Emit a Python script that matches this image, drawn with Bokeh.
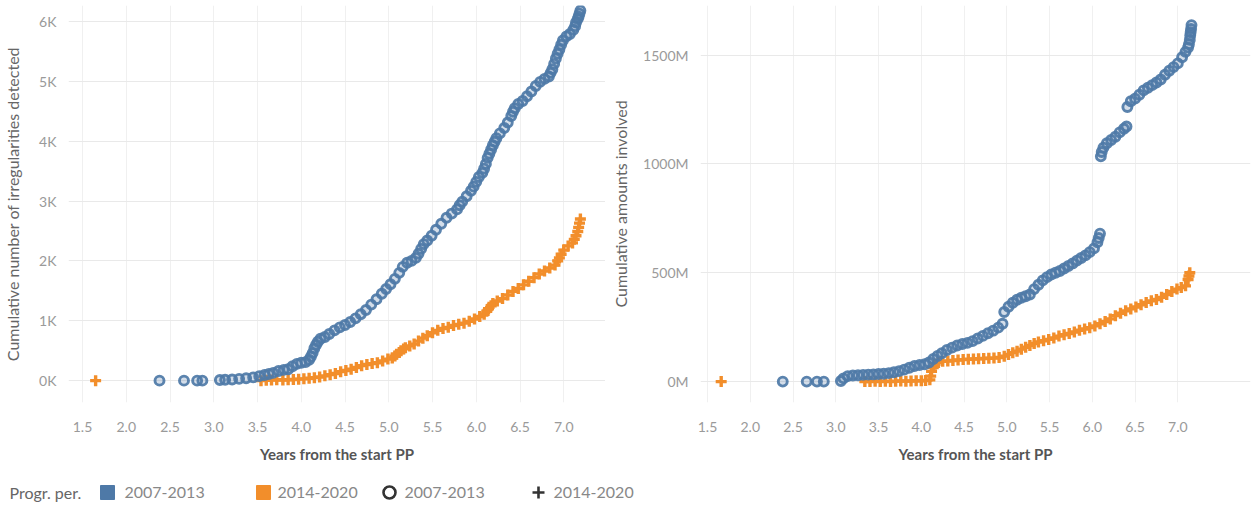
from bokeh.plotting import figure
from bokeh.layouts import column, row
from bokeh.models import FixedTicker, Range1d
from bokeh.core.properties import value
from bokeh.embed import file_html
from bokeh.resources import INLINE

# ---------------- data ----------------
x_ticks = [1.5, 2.0, 2.5, 3.0, 3.5, 4.0, 4.5, 5.0, 5.5, 6.0, 6.5, 7.0]
x_tick_labels = ["1.5", "2.0", "2.5", "3.0", "3.5", "4.0", "4.5", "5.0", "5.5", "6.0", "6.5", "7.0"]
left_y_ticks = [0, 1000, 2000, 3000, 4000, 5000, 6000]
left_y_labels = ["0K", "1K", "2K", "3K", "4K", "5K", "6K"]
right_y_ticks = [0, 500, 1000, 1500]
right_y_labels = ["0M", "500M", "1000M", "1500M"]

series_names = ["2007-2013", "2014-2020"]

# Left chart: cumulative number of irregularities detected
irr_0713_x = [2.38, 2.66, 2.81, 2.87, 3.07, 3.13, 3.21, 3.29, 3.37, 3.45, 3.52, 3.58, 3.63, 3.68, 3.74,
              3.8, 3.85, 3.9, 3.95, 4.0, 4.05, 4.09, 4.11, 4.13, 4.15, 4.17, 4.19, 4.22, 4.27, 4.32,
              4.38, 4.44, 4.5, 4.56, 4.62, 4.68, 4.74, 4.8, 4.86, 4.92, 4.97, 5.02, 5.07, 5.12, 5.16,
              5.21, 5.26, 5.31, 5.34, 5.37, 5.4, 5.44, 5.49, 5.54, 5.6, 5.66, 5.72, 5.78, 5.81, 5.84,
              5.89, 5.94, 5.97, 6.0, 6.03, 6.07, 6.09, 6.11, 6.13, 6.15, 6.17, 6.19, 6.21, 6.23, 6.27,
              6.32, 6.36, 6.4, 6.42, 6.44, 6.48, 6.53, 6.58, 6.63, 6.68, 6.73, 6.78, 6.83, 6.85, 6.87,
              6.89, 6.91, 6.93, 6.95, 6.97, 6.99, 7.03, 7.07, 7.11, 7.13, 7.14, 7.16, 7.17, 7.18, 7.19]
irr_0713_y = [0, 0, 0, 0, 10, 15, 20, 30, 40, 55, 75, 95, 110, 130, 160,
              180, 190, 240, 280, 300, 310, 350, 400, 460, 540, 600, 650, 700, 730, 780,
              840, 890, 930, 980, 1040, 1110, 1180, 1270, 1360, 1450, 1530, 1610, 1700, 1800, 1900,
              1970, 2000, 2050, 2120, 2200, 2280, 2340, 2420, 2520, 2620, 2720, 2790, 2860, 2930, 2990,
              3080, 3170, 3240, 3320, 3400, 3470, 3540, 3620, 3720, 3790, 3860, 3930, 3990, 4050, 4130,
              4220, 4310, 4420, 4490, 4550, 4620, 4670, 4750, 4830, 4920, 4990, 5040, 5080, 5140, 5200,
              5290, 5380, 5460, 5530, 5610, 5680, 5750, 5790, 5860, 5920, 5980, 6040, 6080, 6130, 6180]

irr_1420_x = [1.65, 3.54, 3.6, 3.66, 3.72, 3.79, 3.85, 3.91, 3.97, 4.03, 4.09, 4.15, 4.21, 4.27, 4.33,
              4.39, 4.45, 4.51, 4.57, 4.63, 4.69, 4.75, 4.81, 4.87, 4.93, 4.99, 5.04, 5.07, 5.09, 5.12,
              5.14, 5.17, 5.19, 5.24, 5.29, 5.34, 5.39, 5.44, 5.5, 5.56, 5.62, 5.68, 5.74, 5.8, 5.86,
              5.92, 5.98, 6.04, 6.09, 6.12, 6.14, 6.17, 6.19, 6.24, 6.3, 6.36, 6.42, 6.48, 6.54, 6.6,
              6.66, 6.72, 6.78, 6.84, 6.9, 6.93, 6.95, 6.97, 7.0, 7.05, 7.1, 7.12, 7.14, 7.16, 7.17,
              7.18, 7.19]
irr_1420_y = [0, 0, 5, 10, 15, 10, 15, 20, 25, 30, 40, 50, 60, 80, 100,
              120, 150, 170, 190, 220, 250, 270, 285, 300, 330, 360, 380, 410, 440, 470,
              500, 530, 550, 580, 610, 660, 710, 750, 800, 840, 870, 890, 920, 940, 960,
              990, 1030, 1070, 1110, 1160, 1200, 1250, 1290, 1330, 1370, 1430, 1490, 1540, 1600, 1660,
              1720, 1780, 1830, 1880, 1930, 2000, 2050, 2110, 2180, 2250, 2300, 2360, 2420, 2490, 2560,
              2630, 2700]

# Right chart: cumulative amounts involved (millions)
amt_0713_x = [2.38, 2.66, 2.78, 2.86, 3.06, 3.09, 3.14, 3.2, 3.26, 3.32, 3.38, 3.44, 3.5, 3.56, 3.62,
              3.68, 3.74, 3.8, 3.86, 3.92, 3.98, 4.04, 4.09, 4.14, 4.19, 4.24, 4.3, 4.36, 4.42, 4.48,
              4.54, 4.6, 4.66, 4.72, 4.78, 4.84, 4.9, 4.95, 4.97, 5.02, 5.07, 5.12, 5.17, 5.22, 5.27,
              5.32, 5.37, 5.42, 5.47, 5.52, 5.57, 5.62, 5.67, 5.72, 5.77, 5.82, 5.87, 5.92, 5.97, 6.02,
              6.06, 6.075, 6.09, 6.1, 6.11, 6.13, 6.17, 6.22, 6.27, 6.32, 6.37, 6.4, 6.41, 6.45, 6.5,
              6.55, 6.6, 6.65, 6.7, 6.75, 6.8, 6.85, 6.9, 6.95, 7.0, 7.05, 7.09, 7.12, 7.13, 7.14,
              7.145, 7.15, 7.155, 7.16]
amt_0713_y = [0, 0, 0, 0, 3, 15, 25, 28, 29, 31, 32, 33, 35, 36, 39,
              43, 48, 55, 64, 72, 76, 80, 88, 104, 118, 130, 145, 156, 166, 173,
              178, 186, 198, 210, 222, 234, 248, 266, 320, 344, 362, 376, 385, 392, 400,
              425, 445, 465, 480, 492, 500, 508, 520, 531, 543, 556, 568, 580, 595, 612,
              640, 660, 680, 1035, 1055, 1075, 1095, 1110, 1125, 1145, 1162, 1172, 1262, 1288, 1300,
              1318, 1338, 1350, 1362, 1374, 1388, 1410, 1428, 1445, 1462, 1490, 1515, 1535, 1550, 1570,
              1590, 1605, 1620, 1638]

amt_1420_x = [1.66, 3.34, 3.4, 3.46, 3.52, 3.58, 3.64, 3.7, 3.76, 3.82, 3.88, 3.94, 4.0, 4.05, 4.1,
              4.11, 4.12, 4.14, 4.16, 4.2, 4.25, 4.31, 4.37, 4.43, 4.49, 4.55, 4.61, 4.67, 4.73, 4.79,
              4.85, 4.91, 4.97, 5.02, 5.07, 5.12, 5.17, 5.22, 5.27, 5.32, 5.37, 5.43, 5.49, 5.55, 5.61,
              5.67, 5.73, 5.79, 5.85, 5.91, 5.97, 6.03, 6.09, 6.15, 6.21, 6.27, 6.33, 6.39, 6.45, 6.51,
              6.57, 6.63, 6.69, 6.75, 6.81, 6.87, 6.93, 6.99, 7.04, 7.09, 7.12, 7.13, 7.14]
amt_1420_y = [0, 0, 0, 2, 0, 2, 0, 2, 3, 2, 3, 4, 4, 5, 8,
              25, 47, 65, 80, 88, 93, 95, 97, 99, 101, 103, 104, 105, 106, 107,
              108, 111, 117, 125, 133, 140, 149, 158, 166, 175, 182, 188, 194, 200, 209,
              215, 221, 228, 236, 242, 248, 256, 266, 276, 288, 303, 314, 325, 334, 343,
              353, 364, 371, 377, 387, 400, 414, 425, 432, 440, 469, 485, 500]

# ---------------- style ----------------
BLUE = "#4e79a7"
ORANGE = "#f28e2b"
FONT = "Lato"
TICK_COLOR = "#9a9a9a"


def style(p, yticks, ylabels, ytitle, title_standoff):
    p.xaxis.ticker = FixedTicker(ticks=x_ticks)
    p.xaxis.major_label_overrides = dict(zip(x_ticks, x_tick_labels))
    p.yaxis.ticker = FixedTicker(ticks=yticks)
    p.yaxis.major_label_overrides = dict(zip(yticks, ylabels))
    for ax in (p.xaxis[0], p.yaxis[0]):
        ax.axis_line_color = None
        ax.major_tick_line_color = None
        ax.minor_tick_line_color = None
        ax.major_label_text_font = FONT
        ax.major_label_text_font_size = "14px"
        ax.major_label_text_color = TICK_COLOR
        ax.axis_label_text_font = FONT
        ax.axis_label_text_font_style = "normal"
    p.xaxis.axis_label = "Years from the start PP"
    p.xaxis.axis_label_text_font_size = "15px"
    p.xaxis.axis_label_text_color = "#555555"
    p.xaxis.axis_label_text_font_style = "bold"
    p.xaxis.major_label_standoff = 13
    p.xaxis.axis_label_standoff = 10
    p.yaxis.axis_label = ytitle
    p.yaxis.axis_label_text_font_size = "16px"
    p.yaxis.axis_label_text_color = "#666666"
    p.yaxis.major_label_standoff = 6
    p.yaxis.axis_label_standoff = title_standoff
    p.xgrid.grid_line_color = "#f0f0f0"
    p.ygrid.grid_line_color = "#e9e9e9"
    p.outline_line_color = None
    p.background_fill_color = "white"
    p.border_fill_color = "white"


def draw(p, bx, by, ox, oy):
    p.scatter(ox, oy, marker="cross", size=11, line_color=ORANGE, line_width=3.4)
    p.scatter(bx, by, marker="circle", size=9, line_color=BLUE, line_width=2.9,
              fill_color=BLUE, fill_alpha=0.25, line_alpha=0.92)


p1 = figure(width=605, height=465, output_backend="svg", toolbar_location=None,
            x_range=Range1d(1.34, 7.477), y_range=Range1d(-365, 6265),
            min_border_left=68, min_border_right=0, min_border_top=5, min_border_bottom=60)
style(p1, left_y_ticks, left_y_labels, "Cumulative number of irregularities detected", 14)
draw(p1, irr_0713_x, irr_0713_y, irr_1420_x, irr_1420_y)

p2 = figure(width=650, height=465, output_backend="svg", toolbar_location=None,
            x_range=Range1d(1.418, 7.85), y_range=Range1d(-96, 1728),
            min_border_left=95, min_border_right=5, min_border_top=5, min_border_bottom=60)
style(p2, right_y_ticks, right_y_labels, "Cumulative amounts involved", 10)
draw(p2, amt_0713_x, amt_0713_y, amt_1420_x, amt_1420_y)

# ---------------- legend strip ----------------
leg = figure(width=1255, height=44, output_backend="svg", toolbar_location=None,
             x_range=Range1d(0, 1255), y_range=Range1d(0, 44),
             min_border=0, min_border_left=0, min_border_right=0, min_border_top=0, min_border_bottom=0)
leg.axis.visible = False
leg.grid.visible = False
leg.outline_line_color = None
ly = 17
leg.text([9], [ly], text=["Progr. per."], text_font=value(FONT), text_font_size="16px",
         text_color="#666666", text_baseline="middle", text_align="left")
leg.scatter([107], [ly], marker="square", size=14, fill_color=BLUE, line_color=BLUE)
leg.scatter([263], [ly], marker="square", size=14, fill_color=ORANGE, line_color=ORANGE)
leg.scatter([389], [ly], marker="circle", size=12, fill_color=None, line_color="#333333", line_width=2.6)
leg.scatter([538], [ly], marker="cross", size=12, line_color="#333333", line_width=2.6)
leg.text([124, 277, 404, 553], [ly] * 4, text=[series_names[0], series_names[1], series_names[0], series_names[1]],
         text_font=value(FONT), text_font_size="16px", text_color="#888888",
         text_baseline="middle", text_align="left")

layout = column(row(p1, p2), leg)
open("out.html", "w").write(file_html(layout, INLINE))
